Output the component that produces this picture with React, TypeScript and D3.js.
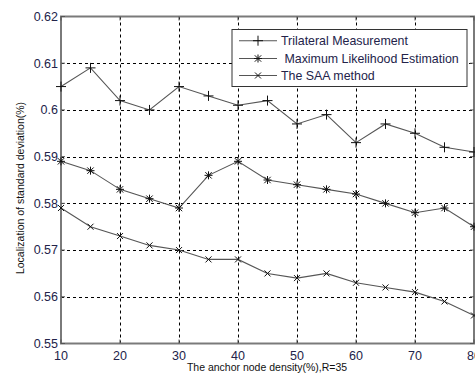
import React, { useEffect, useRef } from 'react';
import * as d3 from 'd3';

const density = [10, 15, 20, 25, 30, 35, 40, 45, 50, 55, 60, 65, 70, 75, 80];
const trilateral = [0.605, 0.609, 0.602, 0.600, 0.605, 0.603, 0.601, 0.602, 0.597, 0.599, 0.593, 0.597, 0.595, 0.592, 0.591];
const mle = [0.589, 0.587, 0.583, 0.581, 0.579, 0.586, 0.589, 0.585, 0.584, 0.583, 0.582, 0.580, 0.578, 0.579, 0.575];
const saa = [0.579, 0.575, 0.573, 0.571, 0.570, 0.568, 0.568, 0.565, 0.564, 0.565, 0.563, 0.562, 0.561, 0.559, 0.556];
const xTicks = [10, 20, 30, 40, 50, 60, 70, 80];
const yTicks = [0.55, 0.56, 0.57, 0.58, 0.59, 0.6, 0.61, 0.62];
const seriesNames = ['Trilateral Measurement', ' Maximum Likelihood Estimation', 'The SAA method'];

function App() {
  const ref = useRef<SVGSVGElement>(null);

  useEffect(() => {
    const svg = d3.select(ref.current);
    svg.selectAll('*').remove();

    const left = 61, right = 474, top = 16.5, bottom = 343.5;
    const x = d3.scaleLinear().domain([10, 80]).range([left, right]);
    const y = d3.scaleLinear().domain([0.55, 0.62]).range([bottom, top]);
    const font = 'Arial, "Liberation Sans", sans-serif';
    const textColor = '#23234a';

    svg.append('rect').attr('width', 475).attr('height', 374).attr('fill', '#fff');

    // grid
    const grid = svg.append('g').attr('stroke', '#000').attr('stroke-width', 1).attr('stroke-dasharray', '3,3');
    grid.selectAll('.gx').data(xTicks.slice(1, -1)).enter().append('line')
      .attr('x1', d => Math.round(x(d)) + 0.5).attr('x2', d => Math.round(x(d)) + 0.5)
      .attr('y1', top).attr('y2', bottom);
    grid.selectAll('.gy').data(yTicks.slice(1, -1)).enter().append('line')
      .attr('y1', d => Math.round(y(d)) + 0.5).attr('y2', d => Math.round(y(d)) + 0.5)
      .attr('x1', left).attr('x2', right);

    // frame
    svg.append('rect').attr('x', left).attr('y', top).attr('width', right - left).attr('height', bottom - top)
      .attr('fill', 'none').attr('stroke', '#7a7a7a').attr('stroke-width', 2);

    // ticks (inward)
    const ticks = svg.append('g').attr('stroke', '#555').attr('stroke-width', 1);
    xTicks.forEach(t => {
      ticks.append('line').attr('x1', x(t)).attr('x2', x(t)).attr('y1', bottom).attr('y2', bottom - 4);
      ticks.append('line').attr('x1', x(t)).attr('x2', x(t)).attr('y1', top).attr('y2', top + 4);
    });
    yTicks.forEach(t => {
      ticks.append('line').attr('y1', y(t)).attr('y2', y(t)).attr('x1', left).attr('x2', left + 4);
      ticks.append('line').attr('y1', y(t)).attr('y2', y(t)).attr('x1', right).attr('x2', right - 4);
    });

    // tick labels
    svg.append('g').selectAll('text').data(yTicks).enter().append('text')
      .attr('x', left - 3).attr('y', d => y(d)).attr('dy', '0.35em')
      .attr('text-anchor', 'end').attr('font-family', font).attr('font-size', 12.5).attr('fill', textColor)
      .text(d => d3.format('.2~f')(d));
    svg.append('g').selectAll('text').data(xTicks).enter().append('text')
      .attr('x', d => x(d)).attr('y', bottom + 16)
      .attr('text-anchor', 'middle').attr('font-family', font).attr('font-size', 12.5).attr('fill', textColor)
      .text(d => d);

    // axis labels
    svg.append('text').attr('x', 267).attr('y', 371)
      .attr('text-anchor', 'middle').attr('font-family', font).attr('font-size', 10.5).attr('fill', '#111')
      .text('The anchor node density(%),R=35');
    svg.append('text').attr('transform', 'translate(24,188) rotate(-90)')
      .attr('text-anchor', 'middle').attr('font-family', font).attr('font-size', 10.5).attr('fill', '#111')
      .text('Localization of standard deviation(%)');

    const line = d3.line<number>().x((_, i) => x(density[i])).y(d => y(d));

    const drawMarker = (g: d3.Selection<SVGGElement, unknown, null, undefined>, kind: number, cx: number, cy: number) => {
      const s = kind === 0 ? 5 : 4;
      if (kind === 0 || kind === 1) {
        g.append('line').attr('x1', cx - s).attr('x2', cx + s).attr('y1', cy).attr('y2', cy);
        g.append('line').attr('x1', cx).attr('x2', cx).attr('y1', cy - s).attr('y2', cy + s);
      }
      if (kind === 1 || kind === 2) {
        const d = kind === 1 ? 3.2 : 3;
        g.append('line').attr('x1', cx - d).attr('x2', cx + d).attr('y1', cy - d).attr('y2', cy + d);
        g.append('line').attr('x1', cx - d).attr('x2', cx + d).attr('y1', cy + d).attr('y2', cy - d);
      }
    };

    const plot = svg.append('g');
    [trilateral, mle, saa].forEach((vals, k) => {
      plot.append('path').datum(vals).attr('d', line).attr('fill', 'none')
        .attr('stroke', '#555').attr('stroke-width', 1.1);
      const mg = plot.append('g').attr('stroke', '#111').attr('stroke-width', 1);
      vals.forEach((v, i) => drawMarker(mg, k, x(density[i]), y(v)));
    });

    // legend
    const lg = svg.append('g');
    lg.append('rect').attr('x', 232).attr('y', 29.5).attr('width', 235).attr('height', 57)
      .attr('fill', '#fff').attr('stroke', '#333').attr('stroke-width', 1);
    const rows = [40.7, 58.5, 75.5];
    seriesNames.forEach((name, k) => {
      const ry = rows[k];
      lg.append('line').attr('x1', 239).attr('x2', 277).attr('y1', ry).attr('y2', ry)
        .attr('stroke', '#555').attr('stroke-width', 1.1);
      const mg = lg.append('g').attr('stroke', '#111').attr('stroke-width', 1);
      drawMarker(mg, k, 258, ry);
      lg.append('text').attr('x', 281).attr('y', ry).attr('dy', '0.35em')
        .attr('font-family', font).attr('font-size', 12.4).attr('fill', textColor)
        .attr('xml:space', 'preserve').style('white-space', 'pre')
        .text(name);
    });
  }, []);

  return (
    <svg ref={ref} width={475} height={374} style={{ position: 'absolute', left: 0, top: 0, display: 'block' }} />
  );
}

export default App;
